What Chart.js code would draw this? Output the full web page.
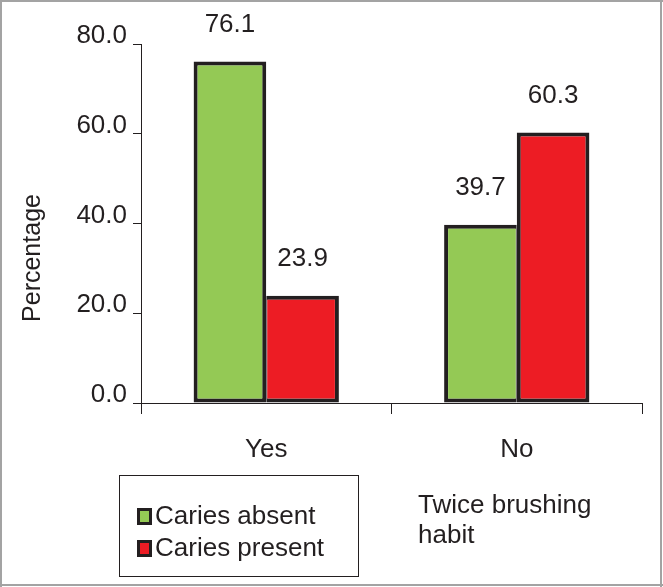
<!DOCTYPE html>
<html>
<head>
<meta charset="utf-8">
<script src="https://cdn.jsdelivr.net/npm/chart.js@4"></script>
<style>
  html, body { margin: 0; padding: 0; background: #ffffff; }
  #wrap { width: 663px; height: 587px; position: relative; }
</style>
</head>
<body>
<div id="wrap"><canvas id="c" width="663" height="587"></canvas></div>
<script>
const categories = ['Yes', 'No'];
const seriesNames = ['Caries absent', 'Caries present'];
const cariesAbsent = [76.1, 39.7];
const cariesPresent = [23.9, 60.3];
const yTicks = [0, 20, 40, 60, 80];
const yTitle = 'Percentage';
const noteLines = ['Twice brushing', 'habit'];

const FONT = '"Liberation Sans", Arial, sans-serif';
const INK = '#231f20';
const GREEN = '#94c955';
const RED = '#ed1c24';

const decorPlugin = {
  id: 'decor',
  afterDraw(chart) {
    const ctx = chart.ctx;
    ctx.save();
    // outer frame
    ctx.fillStyle = '#a3a3a3';
    ctx.fillRect(0, 0, 663, 2);
    ctx.fillRect(0, 0, 2, 587);
    ctx.fillRect(660, 0, 2, 587);
    ctx.fillRect(0, 584, 663, 2);

    // value labels
    ctx.fillStyle = INK;
    ctx.font = '26px ' + FONT;
    ctx.textAlign = 'center';
    ctx.textBaseline = 'middle';
    chart.data.datasets.forEach((ds, di) => {
      const meta = chart.getDatasetMeta(di);
      meta.data.forEach((bar, i) => {
        ctx.fillText(ds.data[i].toFixed(1), bar.x, bar.y - 37);
      });
    });

    // y title
    ctx.save();
    ctx.translate(33, 258);
    ctx.rotate(-Math.PI / 2);
    ctx.font = '25px ' + FONT;
    ctx.textAlign = 'center';
    ctx.textBaseline = 'middle';
    ctx.fillText(yTitle, 0, 0);
    ctx.restore();

    // legend box
    ctx.strokeStyle = INK;
    ctx.lineWidth = 1;
    ctx.strokeRect(119.5, 475.5, 239, 101);
    ctx.font = '26px ' + FONT;
    ctx.textAlign = 'left';
    ctx.textBaseline = 'middle';
    chart.data.datasets.forEach((ds, di) => {
      const cy = 517 + di * 32;
      ctx.fillStyle = INK;
      ctx.fillRect(137, cy - 9, 15, 17);
      ctx.fillStyle = ds.backgroundColor;
      ctx.fillRect(140, cy - 6, 9, 11);
      ctx.fillStyle = INK;
      ctx.fillText(ds.label, 155, cy);
    });

    // note text
    ctx.textBaseline = 'alphabetic';
    noteLines.forEach((t, i) => ctx.fillText(t, 418, 513 + i * 30));
    ctx.restore();
  }
};

function sideWidths(own, other) {
  return (ctx) => {
    const i = ctx.dataIndex;
    return own[i] >= other[i] ? 4 : 1;
  };
}

new Chart(document.getElementById('c'), {
  type: 'bar',
  data: {
    labels: categories,
    datasets: [
      {
        label: seriesNames[0],
        data: cariesAbsent,
        backgroundColor: GREEN,
        borderColor: INK,
        borderSkipped: false,
        borderWidth: (ctx) => ({ top: 4, left: 4, bottom: 4, right: sideWidths(cariesAbsent, cariesPresent)(ctx) })
      },
      {
        label: seriesNames[1],
        data: cariesPresent,
        backgroundColor: RED,
        borderColor: INK,
        borderSkipped: false,
        borderWidth: (ctx) => ({ top: 4, right: 4, bottom: 4, left: sideWidths(cariesPresent, cariesAbsent)(ctx) })
      }
    ]
  },
  options: {
    responsive: false,
    animation: false,
    devicePixelRatio: 1,
    layout: { padding: { top: 44, right: 21, left: 0, bottom: 0 } },
    categoryPercentage: 0.58,
    barPercentage: 1,
    plugins: {
      legend: { display: false },
      tooltip: { enabled: false }
    },
    scales: {
      x: {
        type: 'category',
        offset: true,
        grid: { display: true, drawOnChartArea: false, drawTicks: true, tickLength: 11, color: INK, lineWidth: 1, offset: true },
        border: { display: true, color: INK, width: 1 },
        ticks: { font: { family: FONT, size: 26 }, color: INK, padding: 20 },
        afterFit(scale) { scale.height = 184; }
      },
      y: {
        min: 0,
        max: 80,
        afterBuildTicks(scale) { scale.ticks = yTicks.map(v => ({ value: v })); },
        grid: { display: true, drawOnChartArea: false, drawTicks: true, tickLength: 8, color: INK, lineWidth: 1 },
        border: { display: true, color: INK, width: 1 },
        ticks: {
          font: { family: FONT, size: 26 },
          color: INK,
          padding: 6,
          labelOffset: -8,
          callback: (v) => Number(v).toFixed(1)
        },
        afterFit(scale) { scale.width = 141; }
      }
    }
  },
  plugins: [decorPlugin]
});
</script>
</body>
</html>
